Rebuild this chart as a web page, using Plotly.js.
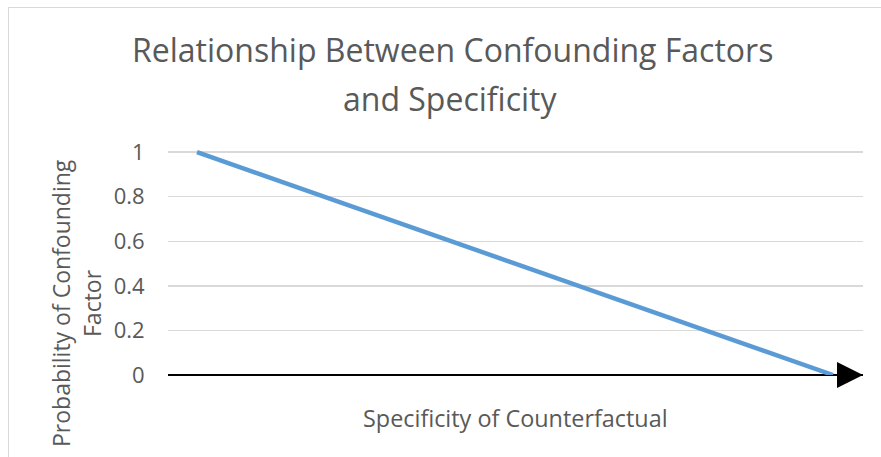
<!DOCTYPE html>
<html>
<head>
<meta charset="utf-8">
<script src="https://cdn.plot.ly/plotly-3.0.1.min.js"></script>
<style>
  html, body { margin: 0; padding: 0; background: #fff; }
  #wrap { position: relative; width: 881px; height: 457px; overflow: hidden; }
  #chart { width: 881px; height: 457px; }
  #frame { position: absolute; left: 8px; top: 7px; width: 900px; height: 500px;
           border-left: 1px solid #d9d9d9; border-top: 1px solid #d9d9d9; pointer-events: none; }
</style>
</head>
<body>
<div id="wrap">
  <div id="chart"></div>
  <div id="frame"></div>
</div>
<script>
// Data
const specificity = [0, 1];
const probability = [1, 0];
const yTickVals = [0, 0.2, 0.4, 0.6, 0.8, 1];
const yTickText = ["0", "0.2", "0.4", "0.6", "0.8", "1"];
const titleLine1 = "Relationship Between Confounding Factors";
const titleLine2 = "and Specificity";
const xTitle = "Specificity of Counterfactual";
const yTitleLine1 = "Probability of Confounding";
const yTitleLine2 = "Factor";

const FONT = "Open Sans, Liberation Sans, sans-serif";
const GREY = "#595959";

// plot area geometry (pixels)
const PL = 168, PR = 863, PT = 141, PB = 375;
const px = x => (x - PL) / (PR - PL);
const py = y => (PB - y) / (PB - PT);

const trace = {
  x: specificity,
  y: probability,
  type: "scatter",
  mode: "lines",
  line: { color: "#5B9BD5", width: 4.5 },
  hoverinfo: "skip",
  showlegend: false
};

function ann(text, xPix, yPix, size, angle) {
  return {
    text: text, textangle: angle || 0,
    xref: "paper", yref: "paper",
    x: px(xPix), y: py(yPix),
    xanchor: "center", yanchor: "middle",
    showarrow: false,
    font: { family: FONT, size: size, color: GREY }
  };
}

const layout = {
  width: 881,
  height: 457,
  margin: { l: PL, r: 881 - PR, t: PT, b: 457 - PB },
  paper_bgcolor: "#ffffff",
  plot_bgcolor: "#ffffff",
  font: { family: FONT, color: GREY },
  xaxis: {
    range: [-0.0456, 1.0472],
    showgrid: false,
    zeroline: false,
    showline: false,
    showticklabels: false,
    ticks: "",
    fixedrange: true
  },
  yaxis: {
    range: [0, 1.05],
    tickvals: yTickVals,
    ticktext: yTickText,
    tickfont: { family: FONT, size: 22, color: GREY },
    ticks: "outside",
    ticklen: 18,
    tickcolor: "rgba(0,0,0,0)",
    showgrid: true,
    gridcolor: "#d9d9d9",
    gridwidth: 1.3,
    zeroline: true,
    zerolinecolor: "#000000",
    zerolinewidth: 1.8,
    showline: false,
    fixedrange: true
  },
  annotations: [
    ann(titleLine1, 452, 49, 32),
    ann(titleLine2, 450, 98, 32),
    ann(xTitle, 515, 418, 23.4),
    ann(yTitleLine1, 61, 303, 23, -90),
    ann(yTitleLine2, 92, 303, 23, -90)
  ],
  shapes: [
    {
      type: "path",
      xref: "paper", xsizemode: "pixel", xanchor: 1,
      yref: "paper", ysizemode: "pixel", yanchor: 0,
      path: "M-26,-13 L0,0 L-26,13 Z",
      fillcolor: "#000000",
      line: { width: 0 },
      layer: "above"
    }
  ]
};

Plotly.newPlot("chart", [trace], layout, { displayModeBar: false, staticPlot: true });
</script>
</body>
</html>
